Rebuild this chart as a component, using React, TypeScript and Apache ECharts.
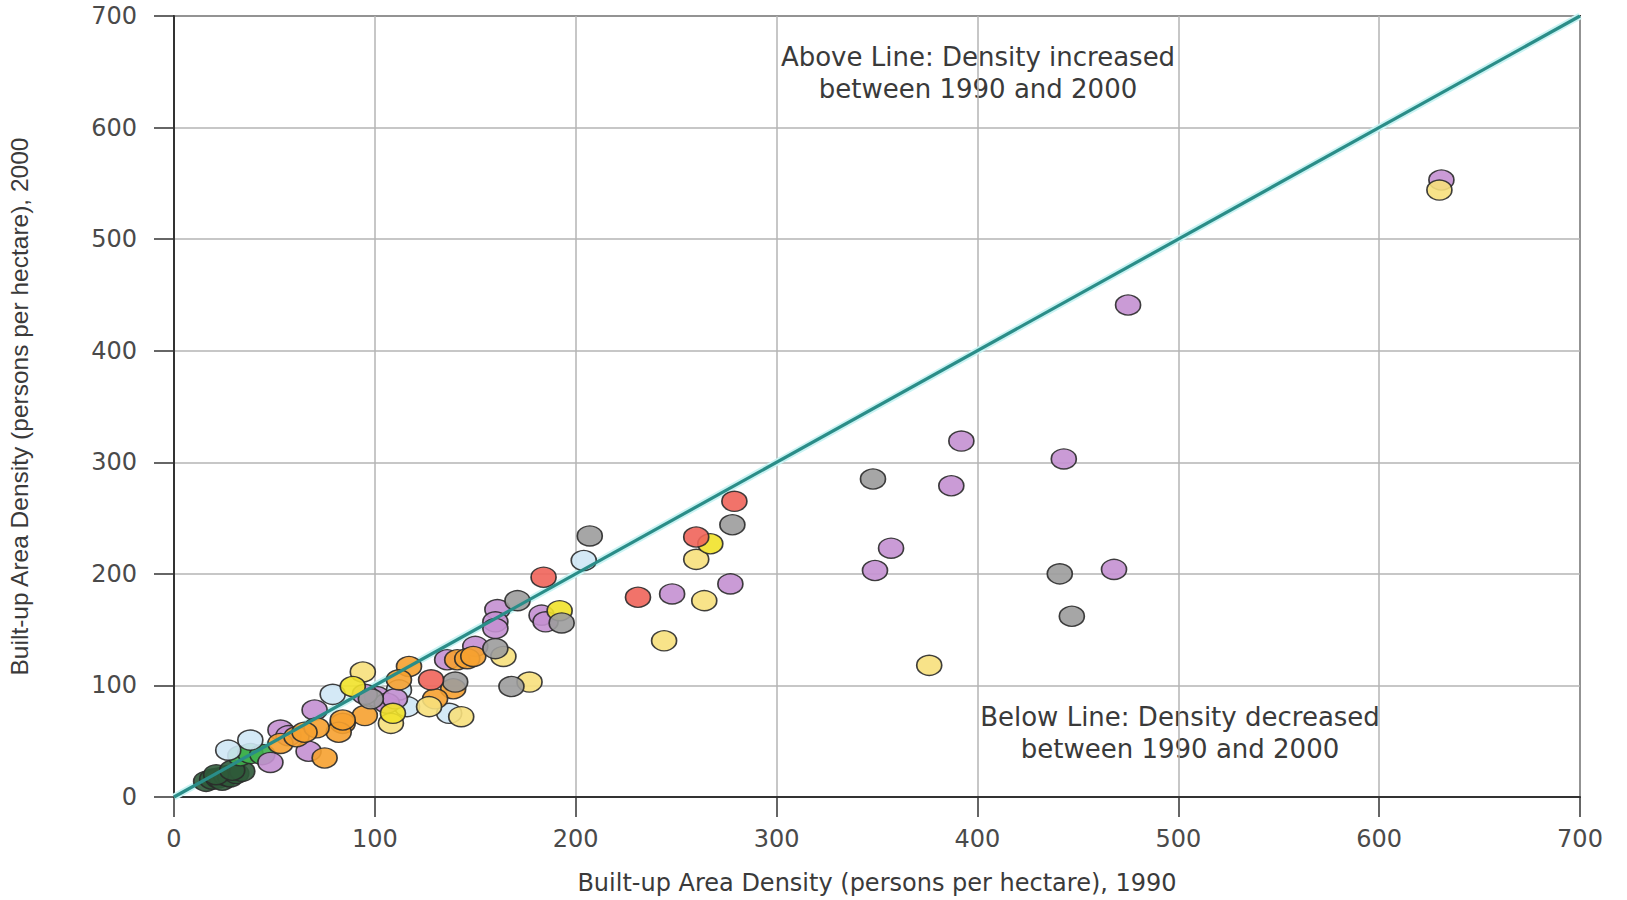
import React, { useEffect, useRef } from "react";
import * as echarts from "echarts";

// Built-up area density (persons per hectare): [1990, 2000]
const purplePts: [number, number][] = [
  [631, 553], [475, 441], [392, 319], [443, 303], [387, 279], [357, 223], [349, 203], [468, 204],
  [277, 191], [248, 182], [183, 163], [185, 157], [161, 168], [160, 157], [160, 151], [150, 135],
  [136, 123], [101, 90], [106, 84], [95, 92], [110, 88], [70, 78], [67, 41], [48, 31], [53, 60], [57, 55],
];
const grayPts: [number, number][] = [
  [348, 285], [441, 200], [447, 162], [278, 244], [207, 234], [193, 156], [168, 99], [160, 133],
  [140, 103], [171, 176], [98, 88],
];
const redPts: [number, number][] = [
  [279, 265], [260, 233], [231, 179], [184, 197], [128, 105],
];
const paleYellowPts: [number, number][] = [
  [630, 544], [376, 118], [264, 176], [260, 213], [244, 140], [177, 103], [164, 126], [143, 72],
  [127, 81], [108, 66], [94, 112],
];
const brightYellowPts: [number, number][] = [
  [267, 227], [192, 167], [109, 75], [89, 99],
];
const lightBluePts: [number, number][] = [
  [204, 212], [137, 75], [116, 81], [112, 96], [79, 92], [27, 42], [38, 51],
];
const orangePts: [number, number][] = [
  [141, 123], [146, 124], [149, 126], [139, 97], [130, 88], [117, 117], [112, 105], [95, 73],
  [84, 66], [82, 58], [75, 35], [53, 48], [61, 54], [71, 62], [84, 69], [65, 58],
];
const greenPts: [number, number][] = [
  [33, 37], [38, 39], [44, 38],
];
const darkGreenPts: [number, number][] = [
  [16, 14], [19, 16], [22, 17], [24, 15], [26, 19], [28, 18], [31, 21], [34, 23], [21, 20], [29, 24],
];
const diagonal: [number, number][] = [[0, 0], [700, 700]];
const axisTicks = [0, 100, 200, 300, 400, 500, 600, 700];

const xTitle = "Built-up Area Density (persons per hectare), 1990";
const yTitle = "Built-up Area Density (persons per hectare), 2000";
const aboveText = ["Above Line: Density increased", "between 1990 and 2000"];
const belowText = ["Below Line: Density decreased", "between 1990 and 2000"];

const groups: { data: [number, number][]; color: string }[] = [
  { data: darkGreenPts, color: "#2f5a3a" },
  { data: greenPts, color: "#3fb04c" },
  { data: lightBluePts, color: "#cfe7f5" },
  { data: purplePts, color: "#c490d1" },
  { data: orangePts, color: "#f6a130" },
  { data: paleYellowPts, color: "#f7e07c" },
  { data: brightYellowPts, color: "#f1e22a" },
  { data: grayPts, color: "#9c9c9c" },
  { data: redPts, color: "#f0645a" },
];

const tickFont = "'DejaVu Sans', Verdana, sans-serif";

export default function App() {
  const ref = useRef<HTMLDivElement>(null);
  useEffect(() => {
    if (!ref.current) return;
    const chart = echarts.init(ref.current, null, { renderer: "svg" });
    const axisCommon = {
      type: "value" as const,
      min: axisTicks[0],
      max: axisTicks[axisTicks.length - 1],
      interval: 100,
      axisLine: { show: true, lineStyle: { color: "#333", width: 2 } },
      axisTick: { show: true, inside: false, length: 20, lineStyle: { color: "#333", width: 1.5 } },
      splitLine: { show: true, lineStyle: { color: "#b5b5b5", width: 1.5 } },
      axisLabel: { color: "#4a4a4a", fontFamily: tickFont, fontSize: 24 },
      nameLocation: "middle" as const,
    };
    const txt = (s: string, x: number, y: number) => ({
      type: "text",
      x,
      y,
      style: { text: s, fill: "#3a3a3a", font: `26px ${tickFont}`, align: "center", verticalAlign: "middle" },
    });
    chart.setOption({
      animation: false,
      backgroundColor: "#fff",
      grid: {
        left: 174,
        right: 47,
        top: 16,
        bottom: 103,
        containLabel: false,
        outerBoundsMode: "none",
        show: true,
        borderColor: "#333",
        borderWidth: 2,
        backgroundColor: "transparent",
      },
      xAxis: {
        ...axisCommon,
        axisLabel: { ...axisCommon.axisLabel, margin: 30 },
        name: xTitle,
        nameGap: 74,
        nameTextStyle: { color: "#3a3a3a", fontFamily: tickFont, fontSize: 24 },
      },
      yAxis: {
        ...axisCommon,
        axisLabel: { ...axisCommon.axisLabel, margin: 37 },
        name: yTitle,
        nameGap: 142,
        nameRotate: 90,
        nameTextStyle: {
          color: "#3a3a3a",
          fontFamily: "'Liberation Sans Narrow', 'Liberation Sans', Arial, sans-serif",
          fontSize: 24.5,
        },
      },
      series: [
        {
          type: "line",
          data: diagonal,
          symbol: "none",
          lineStyle: { color: "#c9f3f3", width: 7 },
          z: 1,
          silent: true,
        },
        {
          type: "line",
          data: diagonal,
          symbol: "none",
          lineStyle: { color: "#2a8d88", width: 3.2 },
          z: 4,
          silent: true,
        },
        ...groups.map((g) => ({
          type: "scatter",
          data: g.data,
          symbol: "circle",
          symbolSize: [25, 20],
          itemStyle: { color: g.color, borderColor: "#2a2a2a", borderWidth: 1.5, opacity: 0.9 },
          z: 3,
        })),
      ],
      graphic: [
        txt(aboveText[0], 978, 57),
        txt(aboveText[1], 978, 89),
        txt(belowText[0], 1180, 717),
        txt(belowText[1], 1180, 749),
      ],
    });
    return () => chart.dispose();
  }, []);
  return (
    <div
      ref={ref}
      style={{ position: "fixed", left: 0, top: 0, width: 1627, height: 900, background: "#fff" }}
    />
  );
}
